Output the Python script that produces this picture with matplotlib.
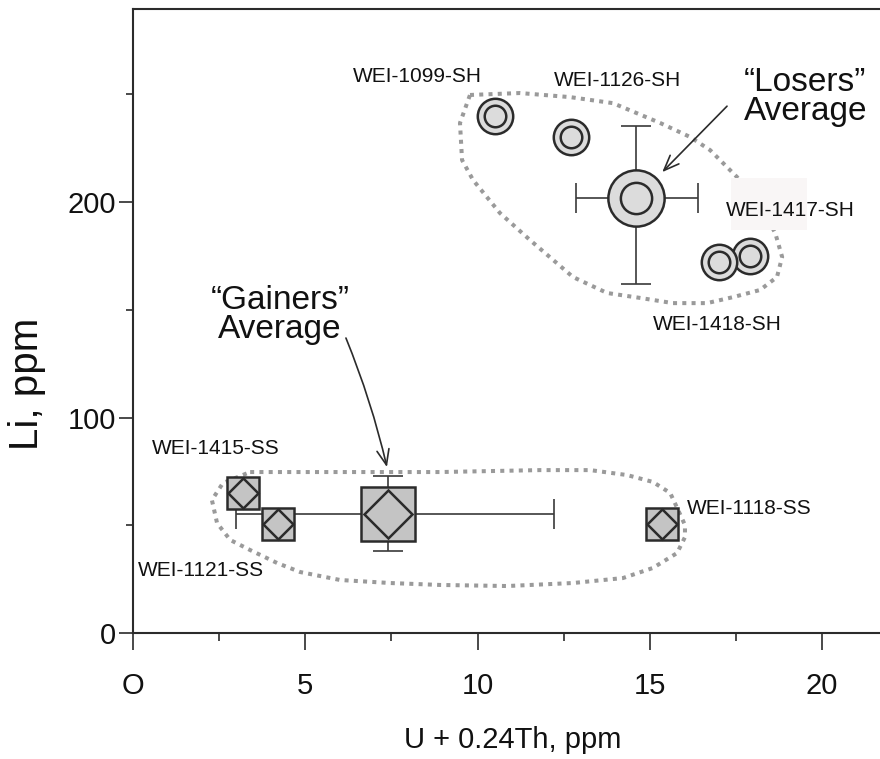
import matplotlib
matplotlib.use("Agg")
import matplotlib.pyplot as plt
from matplotlib.patches import Rectangle
from matplotlib.ticker import MultipleLocator, FixedFormatter, FixedLocator

# sample points: U + 0.24Th (ppm) vs Li (ppm)
loser_names = ["WEI-1099-SH", "WEI-1126-SH", "WEI-1417-SH", "WEI-1418-SH"]
loser_u = [10.5, 12.7, 17.9, 17.0]
loser_li = [240, 230, 175, 172]

gainer_names = ["WEI-1415-SS", "WEI-1121-SS", "WEI-1118-SS"]
gainer_u = [3.2, 4.2, 15.35]
gainer_li = [65, 50.5, 50.5]

# group averages with error ranges (minus, plus)
loser_avg_u, loser_avg_li = 14.6, 202
loser_err_u = [[1.75], [1.8]]
loser_err_li = [[40], [33.5]]

gainer_avg_u, gainer_avg_li = 7.4, 55.3
gainer_err_u = [[4.4], [4.83]]
gainer_err_li = [[17.3], [17.4]]

# dotted envelopes around each group
loser_env_u = [9.78, 11.23, 12.69, 13.93, 15.30, 16.17, 16.75, 17.53, 18.20, 18.64,
               18.84, 18.69, 18.20, 17.42, 16.66, 15.67, 14.72, 13.76, 12.77, 11.52,
               10.65, 9.87, 9.55, 9.49, 9.78]
loser_env_li = [249.7, 250.6, 248.7, 245.9, 236.7, 230.2, 224.1, 211.6, 198.6, 185.6,
                174.5, 165.2, 159.2, 155.9, 153.1, 153.1, 155.5, 157.8, 165.2, 182.4,
                194.9, 210.2, 219.5, 236.7, 249.7]
gainer_env_u = [3.40, 8.91, 11.81, 13.27, 14.34, 15.09, 15.59, 15.82, 16.02, 16.02,
                15.79, 15.09, 14.22, 12.77, 10.86, 8.91, 7.46, 6.01, 4.85, 4.18,
                3.40, 2.82, 2.44, 2.29, 2.61, 3.40]
gainer_env_li = [74.7, 74.7, 75.6, 75.6, 73.3, 70.1, 65.0, 57.1, 50.1, 44.5,
                 37.1, 30.2, 25.5, 23.2, 21.8, 22.3, 23.2, 24.6, 28.3, 32.5,
                 38.5, 43.2, 51.0, 61.7, 69.6, 74.7]

x_ticks = [0, 5, 10, 15, 20]
x_tick_labels = ["O", "5", "10", "15", "20"]
y_ticks = [0, 100, 200]
y_tick_labels = ["0", "100", "200"]

font = "Liberation Sans"
ink = "#2b2b2b"
txt = "#111111"
circle_fill = "#dcdcdc"
square_fill = "#c4c4c4"
env_color = "#9a9a9a"

fig = plt.figure(figsize=(8.8, 7.59), dpi=100)
ax = fig.add_axes([133 / 880, 126 / 759, 747 / 880, 624 / 759])
ax.set_xlim(0, 21.68)
ax.set_ylim(0, 289.6)

for side in ["left", "bottom", "top"]:
    ax.spines[side].set_linewidth(1.5)
    ax.spines[side].set_color(ink)
ax.spines["right"].set_visible(False)

ax.xaxis.set_major_locator(FixedLocator(x_ticks))
ax.xaxis.set_major_formatter(FixedFormatter(x_tick_labels))
ax.xaxis.set_minor_locator(MultipleLocator(2.5))
ax.yaxis.set_major_locator(FixedLocator(y_ticks))
ax.yaxis.set_major_formatter(FixedFormatter(y_tick_labels))
ax.yaxis.set_minor_locator(MultipleLocator(50))
ax.tick_params(which="both", direction="out", color=ink, width=1.2, top=False, right=False)
ax.tick_params(axis="x", which="major", length=12, pad=16, labelsize=21)
ax.tick_params(axis="x", which="minor", length=6)
ax.tick_params(axis="y", which="major", length=10, pad=2, labelsize=21)
ax.tick_params(axis="y", which="minor", length=5)
for lab in ax.get_xticklabels() + ax.get_yticklabels():
    lab.set_fontfamily(font)
    lab.set_color(txt)

ax.set_xlabel("U + 0.24Th, ppm", fontsize=21, family=font, color=txt, va="center")
ax.xaxis.set_label_coords(0.508, -0.172)
ax.set_ylabel("Li, ppm", fontsize=29, family=font, color=txt, va="center")
ax.yaxis.set_label_coords(-0.142, 0.40)

# envelopes
dot = (0, (1, 1.3))
ax.plot(loser_env_u, loser_env_li, color=env_color, lw=2.9, ls=dot, zorder=1)
ax.plot(gainer_env_u, gainer_env_li, color=env_color, lw=2.9, ls=dot, zorder=1)
ax.add_patch(Rectangle((17.36, 187), 2.2, 24, facecolor="#f9f6f6", edgecolor="none", zorder=2))

# error bars of the averages
ax.errorbar([loser_avg_u], [loser_avg_li], xerr=loser_err_u, yerr=loser_err_li, fmt="none",
            ecolor="#3a3a3a", elinewidth=1.2, capsize=11, capthick=1.2, zorder=3)
ax.errorbar([gainer_avg_u], [gainer_avg_li], xerr=gainer_err_u, yerr=gainer_err_li, fmt="none",
            ecolor="#3a3a3a", elinewidth=1.2, capsize=11, capthick=1.2, zorder=3)

# losers: double circles (1417 drawn before 1418 so 1418 sits on top)
for i in [0, 1, 2, 3]:
    ax.plot(loser_u[i], loser_li[i], "o", ms=25.5, mfc=circle_fill, mec=ink, mew=1.8, zorder=4 + i)
    ax.plot(loser_u[i], loser_li[i], "o", ms=15.5, mfc="none", mec=ink, mew=1.8, zorder=4 + i)
ax.plot(loser_avg_u, loser_avg_li, "o", ms=40.5, mfc=circle_fill, mec=ink, mew=1.8, zorder=9)
ax.plot(loser_avg_u, loser_avg_li, "o", ms=22.5, mfc="none", mec=ink, mew=1.8, zorder=9)

# gainers: squares with diamonds
for i in range(len(gainer_u)):
    ax.plot(gainer_u[i], gainer_li[i], "s", ms=23.4, mfc=square_fill, mec=ink, mew=1.8, zorder=4 + i)
    ax.plot(gainer_u[i], gainer_li[i], "D", ms=15, mfc="none", mec=ink, mew=1.8, zorder=4 + i)
ax.plot(gainer_avg_u, gainer_avg_li, "s", ms=39, mfc=square_fill, mec=ink, mew=1.8, zorder=9)
ax.plot(gainer_avg_u, gainer_avg_li, "D", ms=24.5, mfc="none", mec=ink, mew=1.8, zorder=9)

# sample labels
label_offsets = {
    "WEI-1099-SH": (-56, 28, "center"),
    "WEI-1126-SH": (34, 41, "center"),
    "WEI-1417-SH": (29.5, 33, "center"),
    "WEI-1418-SH": (-0.7, -45, "center"),
    "WEI-1415-SS": (-20, 32, "center"),
    "WEI-1121-SS": (-55, -33, "center"),
    "WEI-1118-SS": (18, 11, "left"),
}
for names, us, lis in [(loser_names, loser_u, loser_li), (gainer_names, gainer_u, gainer_li)]:
    for n, u, li in zip(names, us, lis):
        dx, dy, ha = label_offsets[n]
        ax.annotate(n, (u, li), xytext=(dx, dy), textcoords="offset points", ha=ha, va="center",
                    fontsize=15, family=font, color=txt, zorder=10)

# group average callouts
arrow = dict(arrowstyle="->,head_length=0.55,head_width=0.22", color=ink, lw=1.2,
             mutation_scale=20, shrinkA=0, shrinkB=0)
ax.text(19.51, 248.7, "\u201cLosers\u201d\nAverage", ha="center", va="center", fontsize=24,
        family=font, color=txt, linespacing=0.9, zorder=10)
ax.annotate("", xy=(15.36, 213.9), xytext=(17.24, 244.5), arrowprops=arrow, zorder=10)
ax.text(4.27, 147.6, "\u201cGainers\u201d\nAverage", ha="center", va="center", fontsize=24,
        family=font, color=txt, linespacing=0.9, zorder=10)
ax.annotate("", xy=(7.37, 77.0), xytext=(6.18, 136.9),
            arrowprops=dict(arrow, connectionstyle="arc3,rad=-0.04"), zorder=10)

fig.savefig("out.png", dpi=100)
